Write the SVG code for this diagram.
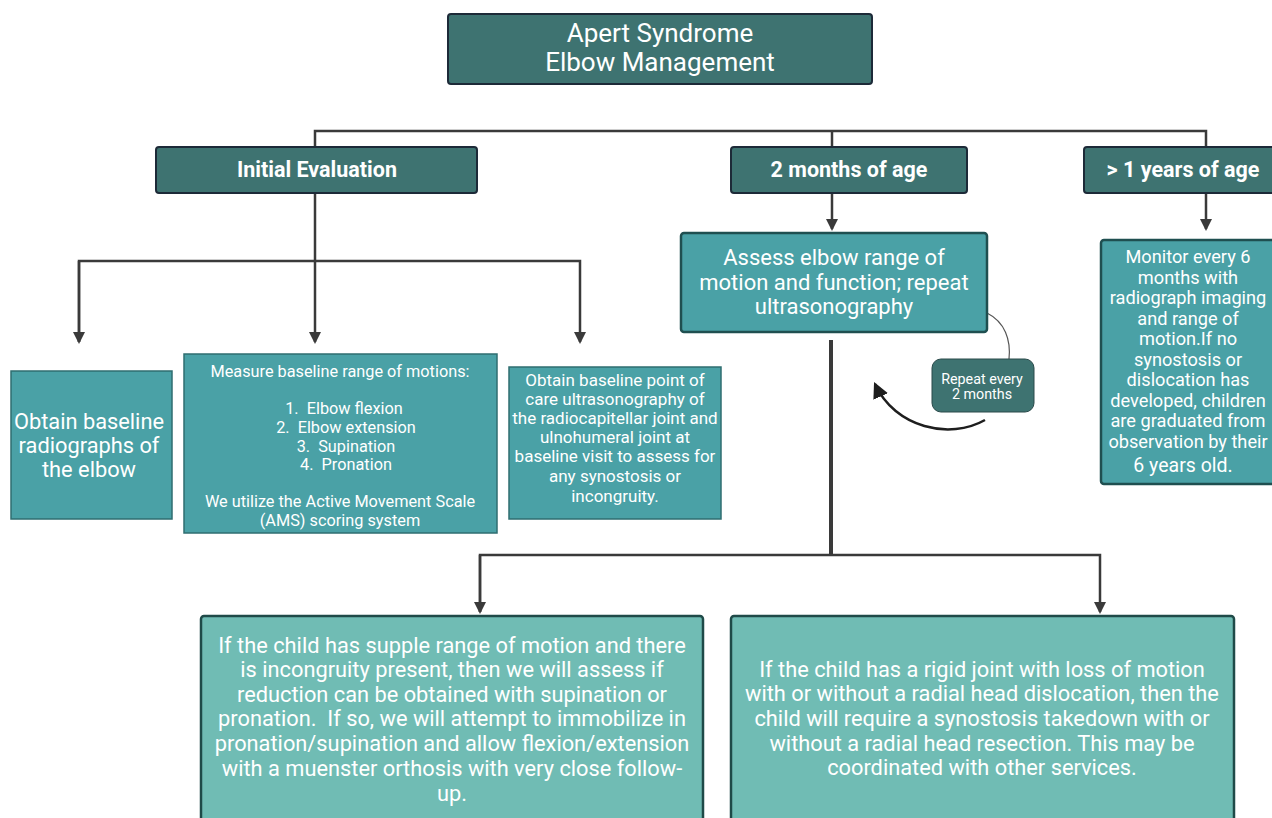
<svg xmlns="http://www.w3.org/2000/svg" width="1272" height="818" viewBox="0 0 1272 818">
<defs>
<marker id="tri" viewBox="0 0 12 12" refX="10" refY="6" markerWidth="12" markerHeight="12" markerUnits="userSpaceOnUse" orient="auto"><path d="M0,0 L12,6 L0,12 Z" fill="#3a3a3a"/></marker>
<marker id="tri2" viewBox="0 0 14 14" refX="12" refY="7" markerWidth="16" markerHeight="16" markerUnits="userSpaceOnUse" orient="auto"><path d="M0,0 L14,7 L0,14 Z" fill="#1e1e1e"/></marker>
</defs>
<style>
text{font-family:Roboto,"Liberation Sans",sans-serif;fill:#ffffff;text-anchor:middle;white-space:pre}
.hdr{fill:#3e7371;stroke:#1d2a38;stroke-width:2}
.mid{fill:#4aa1a6;stroke:#2f6e70;stroke-width:1.5}
.mid2{fill:#4aa1a6;stroke:#1f4f50;stroke-width:2.5}
.low{fill:#70bcb4;stroke:#1f4a48;stroke-width:2.5}
.ln{fill:none;stroke:#3a3a3a;stroke-width:2.5}
.b{font-weight:bold;font-size:21.5px}
</style>
<rect width="1272" height="818" fill="#ffffff"/>
<g id="connectors">
<path class="ln" d="M315,147 V131 H1206 V147"/>
<path class="ln" d="M832,131 V147"/>
<path class="ln" d="M315,193 V342" marker-end="url(#tri)"/>
<path class="ln" d="M79,342 V261 H580 V342" marker-end="url(#tri)"/>
<path class="ln" d="M79,261 V342" marker-end="url(#tri)"/>
<path class="ln" d="M832,193 V229" marker-end="url(#tri)"/>
<path class="ln" d="M1206,193 V229" marker-end="url(#tri)"/>
<path d="M831,340 V555" fill="none" stroke="#3a3a3a" stroke-width="4"/>
<path class="ln" d="M480,612 V555 H1100 V612" marker-end="url(#tri)"/>
<path class="ln" d="M480,555 V612" marker-end="url(#tri)"/>
<path d="M987,313 C1005,322 1011,340 1009,359" fill="none" stroke="#555" stroke-width="1.2"/>
<path d="M985,420 C950,440 895,428 875,384" fill="none" stroke="#1e1e1e" stroke-width="2.5" marker-end="url(#tri2)"/>
</g>
<g id="title">
<rect class="hdr" x="448" y="14" width="424" height="70" rx="3"/>
<text x="660" y="42" font-size="26">Apert Syndrome</text>
<text x="660" y="71" font-size="26">Elbow Management</text>
</g>
<g id="initial-evaluation">
<rect class="hdr" x="156" y="147" width="321" height="46" rx="3" stroke="#1e3a3a"/>
<text class="b" x="317" y="177">Initial Evaluation</text>
</g>
<g id="two-months">
<rect class="hdr" x="731" y="147" width="236" height="46" rx="3" stroke="#1e3a3a"/>
<text class="b" x="849" y="177">2 months of age</text>
</g>
<g id="one-year">
<rect class="hdr" x="1084" y="147" width="200" height="46" rx="3"/>
<text class="b" x="1183" y="177">&gt; 1 years of age</text>
</g>
<g id="radiographs">
<rect class="mid" x="11" y="371" width="161" height="148"/>
<text x="89" y="429" font-size="21.8">Obtain baseline</text>
<text x="89" y="453" font-size="21.8">radiographs of</text>
<text x="89" y="477" font-size="21.8">the elbow</text>
</g>
<g id="range-of-motion">
<rect class="mid" x="184" y="354" width="313" height="179"/>
<g font-size="16.3">
<text x="340" y="377">Measure baseline range of motions:</text>
<text x="344" y="414">1.  Elbow flexion</text>
<text x="346" y="433">2.  Elbow extension</text>
<text x="346" y="452">3.  Supination</text>
<text x="346" y="470">4.  Pronation</text>
<text x="340" y="507">We utilize the Active Movement Scale</text>
<text x="340" y="526">(AMS) scoring system</text>
</g>
</g>
<g id="ultrasonography">
<rect class="mid" x="509" y="367" width="212" height="152"/>
<g font-size="17">
<text x="615" y="386">Obtain baseline point of</text>
<text x="615" y="405">care ultrasonography of</text>
<text x="615" y="424">the radiocapitellar joint and</text>
<text x="615" y="443">ulnohumeral joint at</text>
<text x="615" y="462">baseline visit to assess for</text>
<text x="615" y="482">any synostosis or</text>
<text x="615" y="502">incongruity.</text>
</g>
</g>
<g id="assess">
<rect class="mid2" x="681" y="233" width="306" height="99" rx="3"/>
<text x="834" y="265" font-size="22">Assess elbow range of</text>
<text x="834" y="290" font-size="22">motion and function; repeat</text>
<text x="834" y="314" font-size="22">ultrasonography</text>
</g>
<g id="repeat">
<rect x="932" y="359" width="102" height="53" rx="9" fill="#3e7371" stroke="#2a4a4a" stroke-width="1"/>
<text x="982" y="384" font-size="14.3">Repeat every</text>
<text x="982" y="399" font-size="14.3">2 months</text>
</g>
<g id="monitor">
<rect class="mid2" x="1101" y="240" width="185" height="244" rx="3"/>
<g font-size="18.2">
<text x="1188" y="263">Monitor every 6</text>
<text x="1188" y="284">months with</text>
<text x="1188" y="304">radiograph imaging</text>
<text x="1188" y="325">and range of</text>
<text x="1188" y="345">motion.If no</text>
<text x="1188" y="366">synostosis or</text>
<text x="1188" y="386">dislocation has</text>
<text x="1188" y="407">developed, children</text>
<text x="1188" y="427">are graduated from</text>
<text x="1188" y="448">observation by their</text>
<text x="1183" y="472" font-size="19.5">6 years old.</text>
</g>
</g>
<g id="supple">
<rect class="low" x="201" y="616" width="502" height="215" rx="3"/>
<g font-size="21.8">
<text x="452" y="653">If the child has supple range of motion and there</text>
<text x="452" y="677">is incongruity present, then we will assess if</text>
<text x="452" y="702">reduction can be obtained with supination or</text>
<text x="452" y="726">pronation.  If so, we will attempt to immobilize in</text>
<text x="452" y="751">pronation/supination and allow flexion/extension</text>
<text x="452" y="776">with a muenster orthosis with very close follow-</text>
<text x="452" y="801">up.</text>
</g>
</g>
<g id="rigid">
<rect class="low" x="731" y="616" width="503" height="215" rx="3"/>
<g font-size="21.8">
<text x="982" y="677">If the child has a rigid joint with loss of motion</text>
<text x="982" y="701">with or without a radial head dislocation, then the</text>
<text x="982" y="726">child will require a synostosis takedown with or</text>
<text x="982" y="751">without a radial head resection. This may be</text>
<text x="982" y="775">coordinated with other services.</text>
</g>
</g>
</svg>
